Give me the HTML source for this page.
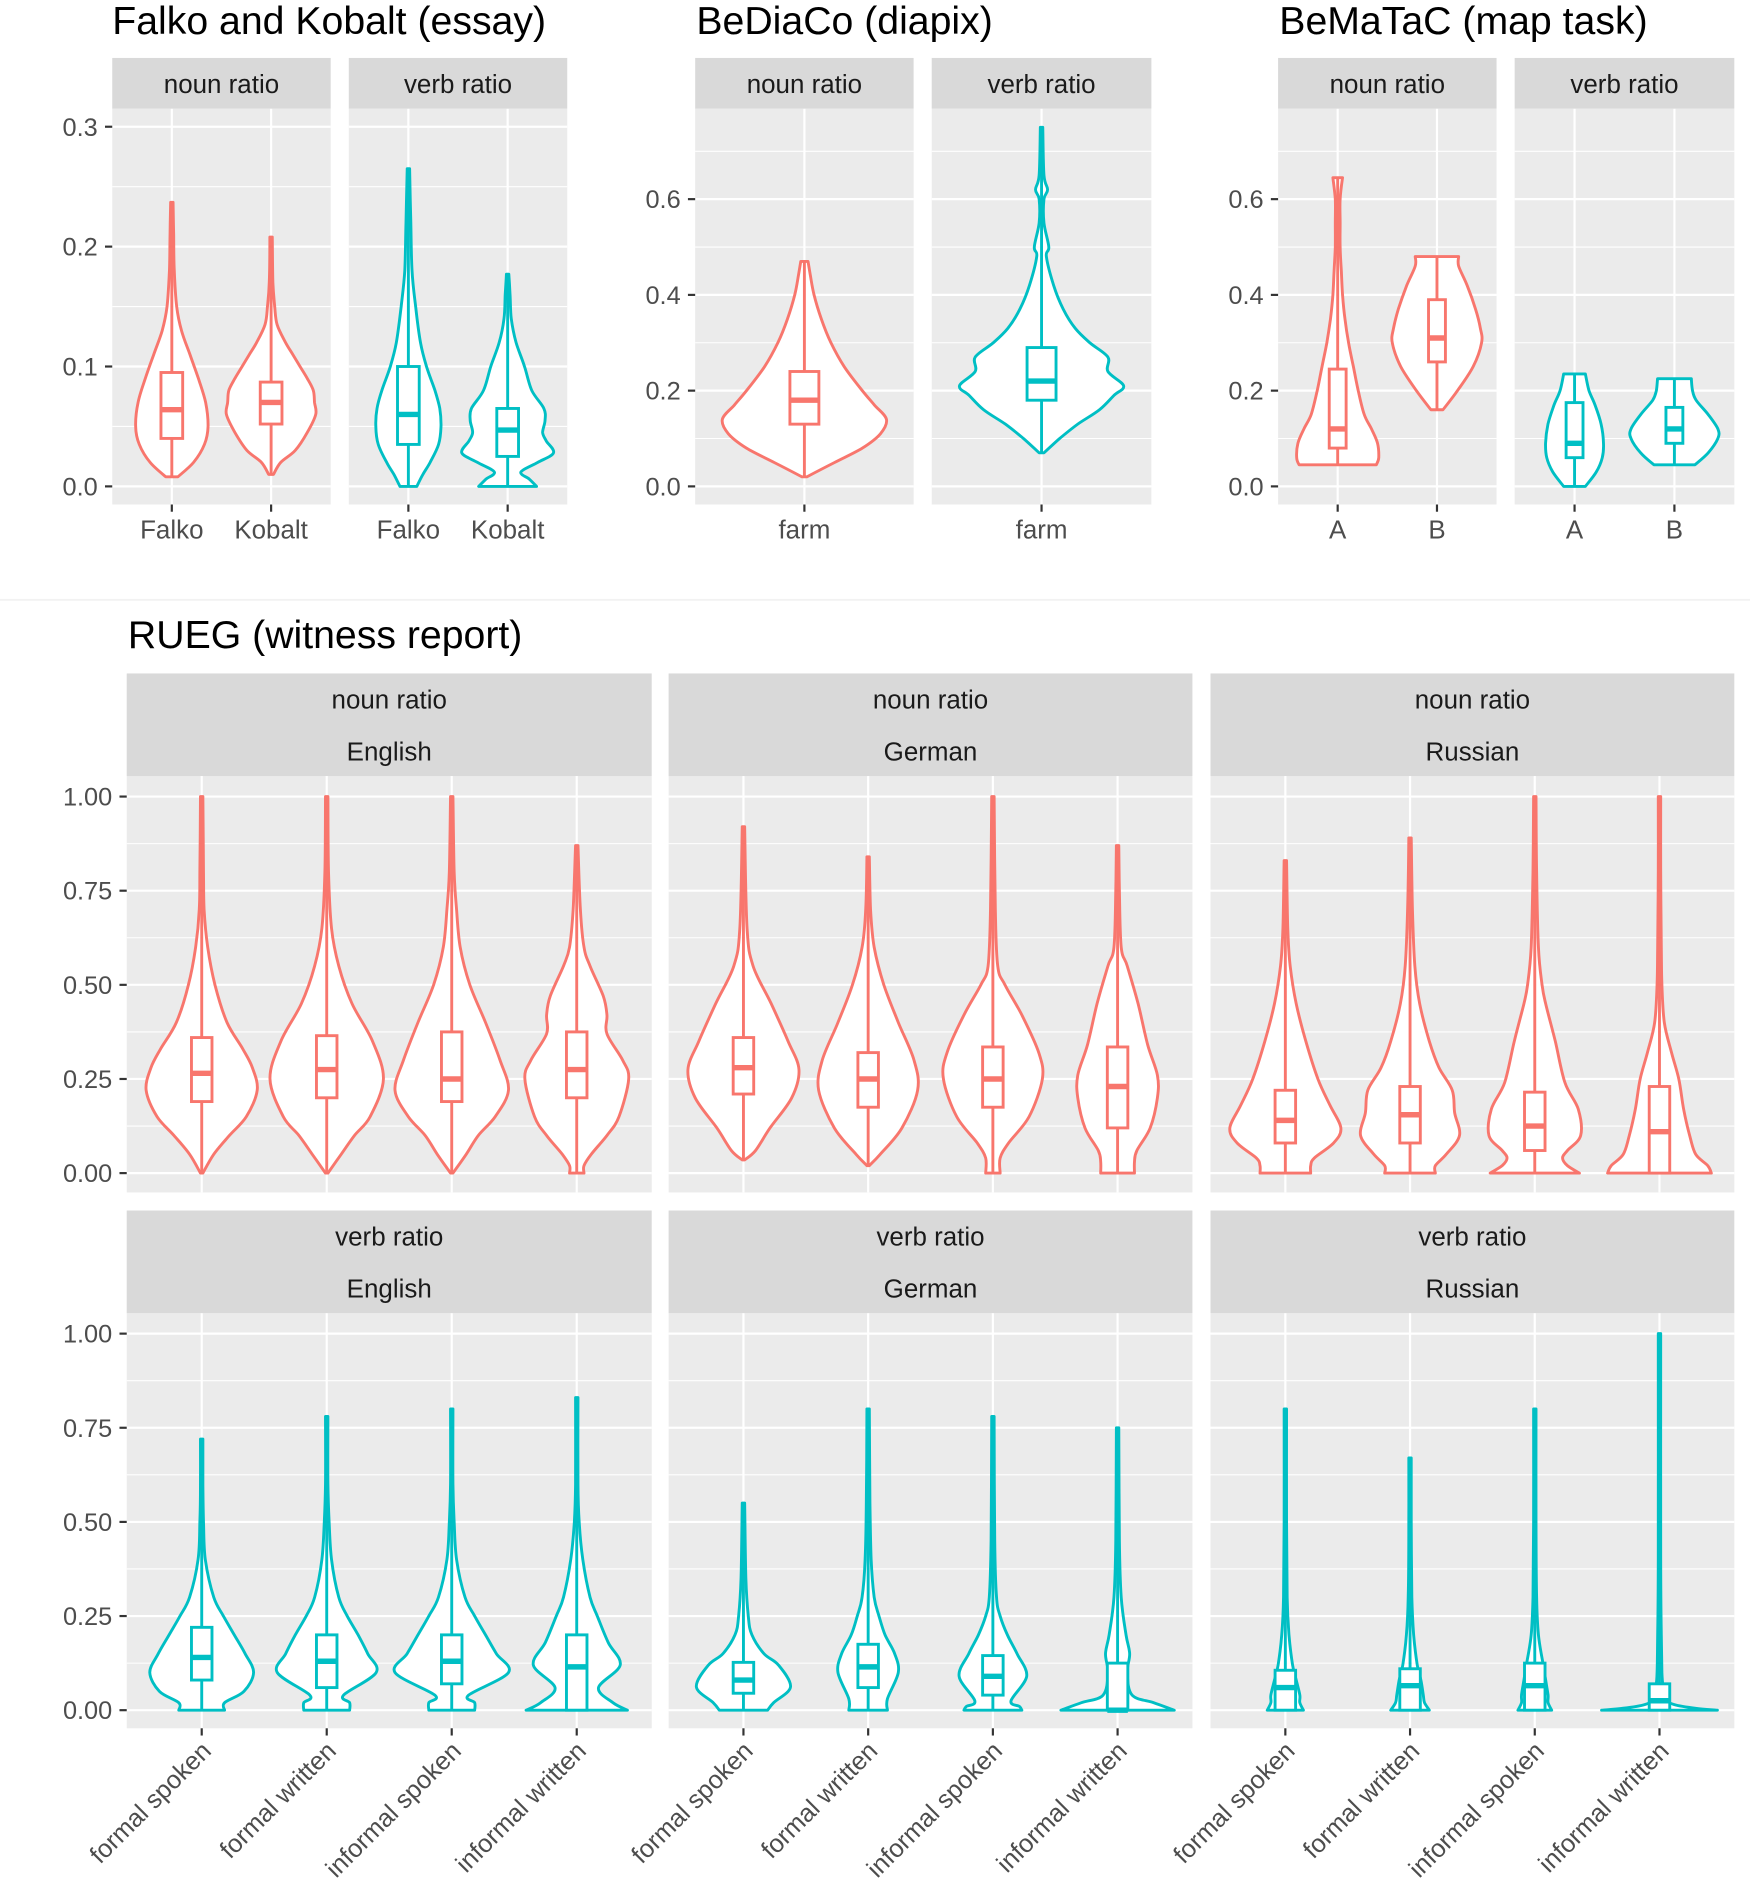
<!DOCTYPE html>
<html><head><meta charset="utf-8">
<style>
html,body{margin:0;padding:0;background:#fff;}
svg{display:block;font-family:"Liberation Sans",Arial,sans-serif;}
</style></head>
<body>
<svg id="chart" width="1750" height="1887" viewBox="0 0 1450 1563.5" xmlns="http://www.w3.org/2000/svg">
<rect x="0" y="0" width="1450" height="1563.5" fill="#fff"/>
</svg>
<script>
// ---------- data ----------
const ratioStrips = ["noun ratio","verb ratio"];
const falkoCats = ["Falko","Kobalt"];
const diapixCats = ["farm"];
const mapCats = ["A","B"];
const ruegCats = ["formal spoken","formal written","informal spoken","informal written"];
const ruegLangs = ["English","German","Russian"];
const ticksTopA = [0,0.1,0.2,0.3];
const ticksTopB = [0,0.2,0.4,0.6];
const ticksRueg = [0,0.25,0.5,0.75,1];
const tickLabelsTopA = ["0.0","0.1","0.2","0.3"];
const tickLabelsTopB = ["0.0","0.2","0.4","0.6"];
const tickLabelsRueg = ["0.00","0.25","0.50","0.75","1.00"];

// each violin: y = value grid, w = density (half-width), box = [q1, median, q3]
const falkoNoun = {y:[0.008,0.02,0.035,0.05,0.07,0.09,0.11,0.13,0.15,0.18,0.21,0.237], w:[5,18,27,30,28,22,15,8,4,2,1.5,1], box:[0.04,0.064,0.095]};
const kobaltNoun = {y:[0.01,0.02,0.03,0.045,0.06,0.07,0.08,0.09,0.1,0.11,0.12,0.135,0.15,0.17,0.208], w:[2,8,20,30,37,36,35,30,24,18,12,5,3,1.5,1], box:[0.052,0.07,0.087]};
const falkoVerb = {y:[0,0.01,0.02,0.035,0.05,0.065,0.08,0.1,0.12,0.15,0.18,0.22,0.265], w:[7,12,18,25,27,26,22,15,10,6,3,2,1], box:[0.035,0.06,0.1]};
const kobaltVerb = {y:[0,0.006,0.012,0.02,0.028,0.038,0.045,0.055,0.065,0.08,0.1,0.12,0.14,0.16,0.177], w:[24,18,11,25,38,32,29,31,30,20,14,7,3,2,1], box:[0.025,0.047,0.065]};
const diapixNoun = {y:[0.02,0.05,0.08,0.11,0.14,0.17,0.2,0.25,0.3,0.35,0.4,0.44,0.47], w:[2,25,48,63,68,58,48,33,22,14,8,5,3], box:[0.13,0.18,0.24]};
const diapixVerb = {y:[0.07,0.1,0.13,0.16,0.19,0.21,0.24,0.27,0.3,0.33,0.37,0.42,0.48,0.5,0.55,0.6,0.62,0.65,0.75], w:[2,15,30,48,60,68,55,55,40,28,18,10,4,6,2,2,5,2,1], box:[0.18,0.22,0.29]};
const mapNounA = {y:[0.045,0.06,0.09,0.12,0.15,0.2,0.25,0.3,0.35,0.4,0.45,0.5,0.55,0.6,0.645], w:[32,34,33,28,22,17,13,9,6,4,3,2,2,2,4], box:[0.08,0.12,0.245]};
const mapNounB = {y:[0.16,0.2,0.25,0.3,0.33,0.37,0.42,0.46,0.48], w:[5,17,30,37,36,32,25,18,18], box:[0.26,0.31,0.39]};
const mapVerbA = {y:[0,0.03,0.06,0.09,0.13,0.17,0.2,0.235], w:[9,18,23,24,22,17,12,9], box:[0.06,0.09,0.175]};
const mapVerbB = {y:[0.045,0.07,0.1,0.12,0.15,0.18,0.2,0.225], w:[17,28,36,36,28,18,15,14], box:[0.09,0.12,0.165]};

const enNounFS = {y:[0,0.05,0.1,0.15,0.22,0.28,0.33,0.4,0.5,0.6,0.7,0.8,1], w:[1,10,23,37,46,42,34,21,11,5,2,1.5,1], box:[0.19,0.265,0.36]};
const enNounFW = {y:[0,0.05,0.1,0.15,0.25,0.35,0.45,0.55,0.65,0.8,1], w:[1,12,23,36,47,38,21,10,4,1.5,1], box:[0.2,0.275,0.365]};
const enNounIS = {y:[0,0.05,0.1,0.15,0.22,0.3,0.4,0.5,0.6,0.7,0.8,1], w:[1,12,22,36,47,40,28,15,7,4,2,1], box:[0.19,0.25,0.375]};
const enNounIW = {y:[0,0.02,0.05,0.1,0.15,0.25,0.3,0.37,0.42,0.47,0.55,0.6,0.7,0.87], w:[6,6,12,25,35,43,38,25,25,22,11,6,3,1], box:[0.2,0.275,0.375]};
const deNounFS = {y:[0.035,0.06,0.12,0.2,0.275,0.35,0.45,0.55,0.65,0.92], w:[1,10,22,40,46,37,23,8,3,1], box:[0.21,0.28,0.36]};
const deNounFW = {y:[0.02,0.05,0.12,0.22,0.3,0.4,0.5,0.6,0.7,0.84], w:[1,10,28,41,38,25,13,5,2,1], box:[0.175,0.25,0.32]};
const deNounIS = {y:[0,0.04,0.08,0.15,0.25,0.32,0.42,0.5,0.55,0.7,1], w:[6,6,13,30,41,38,24,10,4,2,1], box:[0.175,0.25,0.335]};
const deNounIW = {y:[0,0.03,0.06,0.12,0.2,0.26,0.34,0.45,0.55,0.6,0.75,0.87], w:[14,14,16,27,33,33,25,17,8,3,1.5,1], box:[0.12,0.23,0.335]};
const ruNounFS = {y:[0,0.02,0.04,0.08,0.12,0.18,0.25,0.35,0.45,0.55,0.65,0.83], w:[21,21,24,40,46,37,27,17,9,4,2,1], box:[0.08,0.14,0.22]};
const ruNounFW = {y:[0,0.02,0.05,0.1,0.16,0.22,0.28,0.35,0.45,0.55,0.7,0.89], w:[21,21,30,41,37,35,24,16,8,4,2,1], box:[0.08,0.155,0.23]};
const ruNounIS = {y:[0,0.02,0.04,0.06,0.1,0.17,0.24,0.35,0.45,0.5,0.6,0.8,1], w:[37,27,23,27,38,36,25,17,9,6,3,1.5,1], box:[0.06,0.125,0.215]};
const ruNounIW = {y:[0,0.02,0.05,0.1,0.17,0.25,0.32,0.4,0.5,0.6,0.8,1], w:[43,40,30,25,20,16,10,4,2,1.5,1,1], box:[0,0.11,0.23]};

const enVerbFS = {y:[0,0.02,0.05,0.1,0.15,0.2,0.25,0.3,0.4,0.5,0.6,0.72], w:[19,19,35,43,36,27,18,10,3,1.5,1,1], box:[0.08,0.14,0.22]};
const enVerbFW = {y:[0,0.02,0.04,0.1,0.15,0.2,0.25,0.3,0.4,0.5,0.6,0.78], w:[19,19,14,41,34,26,17,10,4,2,1,1], box:[0.06,0.13,0.2]};
const enVerbIS = {y:[0,0.02,0.04,0.1,0.15,0.2,0.25,0.3,0.4,0.5,0.6,0.8], w:[19,19,14,47,37,28,19,11,4,2,1,1], box:[0.07,0.13,0.2]};
const enVerbIW = {y:[0,0.02,0.06,0.12,0.18,0.25,0.3,0.4,0.5,0.6,0.83], w:[42,30,18,36,26,17,11,5,2,1,1], box:[0,0.115,0.2]};
const deVerbFS = {y:[0,0.02,0.062,0.12,0.15,0.2,0.25,0.35,0.55], w:[20,25,39,29,17,7,4,2,1], box:[0.045,0.08,0.127]};
const deVerbFW = {y:[0,0.03,0.1,0.15,0.2,0.25,0.3,0.4,0.55,0.8], w:[16,16,25,22,14,9,5,2.5,1.5,1], box:[0.06,0.115,0.175]};
const deVerbIS = {y:[0,0.01,0.025,0.09,0.15,0.2,0.25,0.3,0.45,0.78], w:[24,22,15,28,20,12,6,3,1.5,1], box:[0.04,0.09,0.145]};
const deVerbIW = {y:[0,0.02,0.04,0.1,0.15,0.2,0.3,0.45,0.75], w:[47,30,12,8,10,7,3,1.5,1], box:[0,0,0.125]};
const ruVerbFS = {y:[0,0.02,0.04,0.08,0.12,0.2,0.3,0.5,0.8], w:[15,12,12,9,6,3,1.5,1,1], box:[0,0.06,0.106]};
const ruVerbFW = {y:[0,0.02,0.04,0.08,0.12,0.2,0.3,0.5,0.67], w:[16,12,11,9,6,3,1.5,1,1], box:[0,0.065,0.11]};
const ruVerbIS = {y:[0,0.02,0.04,0.08,0.12,0.2,0.3,0.5,0.8], w:[14,11,11,9,7,3,1.5,1,1], box:[0,0.065,0.125]};
const ruVerbIW = {y:[0,0.005,0.015,0.03,0.06,0.1,0.2,0.4,1], w:[48,30,12,5,3,2,1.5,1,1], box:[0,0.025,0.07]};

// ---------- drawing ----------
const NS = "http://www.w3.org/2000/svg";
const svg = document.getElementById("chart");
const RED = "#F8766D", TEAL = "#00BFC4";
function mk(tag, attrs, parent){
  const e = document.createElementNS(NS, tag);
  for (const k in attrs) e.setAttribute(k, attrs[k]);
  (parent||svg).appendChild(e);
  return e;
}
function txt(s, x, y, size, fill, anchor, parent){
  const t = mk("text", {x:x, y:y, "font-size":size, fill:fill, "text-anchor":anchor||"start"}, parent);
  t.textContent = s;
  return t;
}
function crPath(pts){
  let d = "";
  for (let i=0;i<pts.length-1;i++){
    const p0 = pts[Math.max(0,i-1)], p1 = pts[i], p2 = pts[i+1], p3 = pts[Math.min(pts.length-1,i+2)];
    const c1x = p1[0]+(p2[0]-p0[0])/6, c1y = p1[1]+(p2[1]-p0[1])/6;
    const c2x = p2[0]-(p3[0]-p1[0])/6, c2y = p2[1]-(p3[1]-p1[1])/6;
    d += ` C${c1x.toFixed(1)},${c1y.toFixed(1)} ${c2x.toFixed(1)},${c2y.toFixed(1)} ${p2[0].toFixed(1)},${p2[1].toFixed(1)}`;
  }
  return d;
}

function panel(p){
  const g = mk("g", {});
  
  
  const yS = v => p.zeroY - v*(p.zeroY-p.refY)/p.refV;
  const n = p.cats.length;
  const unit = (p.x1-p.x0)/(n-1+1.2);
  const xS = i => p.x0 + unit*(0.6+i);
  mk("rect", {x:p.x0, y:p.y0, width:p.x1-p.x0, height:p.y1-p.y0, fill:"#EBEBEB"}, g);
  for (let i=0;i<p.ticks.length;i++){
    const step = p.ticks[1]-p.ticks[0];
    for (const mv of [p.ticks[i]-step/2, p.ticks[i]+step/2]){
      const yy = yS(mv);
      if (yy>p.y0 && yy<p.y1 && (i===0 || mv>p.ticks[i])) mk("line",{x1:p.x0,x2:p.x1,y1:yy,y2:yy,stroke:"#fff","stroke-width":0.9},g);
    }
  }
  p.ticks.forEach(v=>{ const yy=yS(v); mk("line",{x1:p.x0,x2:p.x1,y1:yy,y2:yy,stroke:"#fff","stroke-width":1.8},g); });
  p.cats.forEach((c,i)=>{ mk("line",{x1:xS(i),x2:xS(i),y1:p.y0,y2:p.y1,stroke:"#fff","stroke-width":1.8},g); });
  const strip = mk("rect",{x:p.x0, y:p.sy0, width:p.x1-p.x0, height:p.y0-p.sy0, fill:"#D9D9D9"}, g);
  
  
  p.strip.forEach((s,k)=>{ txt(s,(p.x0+p.x1)/2,p.stripBase[k],21.5,"#1A1A1A","middle",g); });
  if (p.yLabels){
    p.ticks.forEach((v,i)=>{
      const yy=yS(v);
      mk("line",{x1:p.x0-6,x2:p.x0,y1:yy,y2:yy,stroke:"#333","stroke-width":1.8},g);
      const t = txt(p.yLabels[i], p.x0-12, yy+7.5, 21, "#4D4D4D", "end", g);
      
      
    });
  }
  p.cats.forEach((c,i)=>{
    const xx=xS(i);
    if (p.xLabels) mk("line",{x1:xx,x2:xx,y1:p.y1,y2:p.y1+6,stroke:"#333","stroke-width":1.8},g);
    if (p.xLabels==="flat"){
      const t = txt(c, xx, p.y1+28, 21.5, "#4D4D4D", "middle", g);
      
      
    } else if (p.xLabels==="rot"){
      const t = txt(c, xx+9, p.y1+20, 21, "#4D4D4D", "end", g);
      t.setAttribute("transform", `rotate(-45 ${xx+9} ${p.y1+20})`);
      
      
    }
  });
  p.violins.forEach((v,i)=>{
    const cx = xS(i);
    const sc = p.wScale;
    const right = v.y.map((yv,k)=>[cx+v.w[k]*sc, yS(yv)]);
    const left = v.y.map((yv,k)=>[cx-v.w[k]*sc, yS(yv)]).reverse();
    let d = `M${right[0][0].toFixed(1)},${right[0][1].toFixed(1)}` + crPath(right) +
            ` L${left[0][0].toFixed(1)},${left[0][1].toFixed(1)}` + crPath(left) + " Z";
    const vp = mk("path",{d:d, fill:"#fff", stroke:p.color, "stroke-width":2.4, "stroke-linejoin":"round"}, g);
    
    
    mk("line",{x1:cx,x2:cx,y1:yS(v.y[0]),y2:yS(v.y[v.y.length-1]),stroke:p.color,"stroke-width":2.4},g);
    const bh = p.boxHalf;
    const bx = mk("rect",{x:cx-bh, y:yS(v.box[2]), width:2*bh, height:Math.max(1,yS(v.box[0])-yS(v.box[2])), fill:"#fff", stroke:p.color, "stroke-width":2.4}, g);
    
    
    mk("line",{x1:cx-bh,x2:cx+bh,y1:yS(v.box[1]),y2:yS(v.box[1]),stroke:p.color,"stroke-width":4.5},g);
  });
}

const topCommon = {y0:90, y1:418, sy0:48, stripBase:[77], zeroY:403, xLabels:"flat", wScale:1};
const topA = Object.assign({}, topCommon, {refY:105, refV:0.3, ticks:ticksTopA});
const topB = Object.assign({}, topCommon, {refY:165, refV:0.6, ticks:ticksTopB});
panel(Object.assign({}, topA, {name:"falko-noun-panel", x0:93, x1:274, strip:[ratioStrips[0]], cats:falkoCats, violins:[falkoNoun,kobaltNoun], color:RED, yLabels:tickLabelsTopA, boxHalf:9}));
panel(Object.assign({}, topA, {name:"falko-verb-panel", x0:289, x1:470, strip:[ratioStrips[1]], cats:falkoCats, violins:[falkoVerb,kobaltVerb], color:TEAL, boxHalf:9}));
panel(Object.assign({}, topB, {name:"bediaco-noun-panel", x0:576, x1:757, strip:[ratioStrips[0]], cats:diapixCats, violins:[diapixNoun], color:RED, yLabels:tickLabelsTopB, boxHalf:12}));
panel(Object.assign({}, topB, {name:"bediaco-verb-panel", x0:772, x1:954, strip:[ratioStrips[1]], cats:diapixCats, violins:[diapixVerb], color:TEAL, boxHalf:12}));
panel(Object.assign({}, topB, {name:"bematac-noun-panel", x0:1059, x1:1240, strip:[ratioStrips[0]], cats:mapCats, violins:[mapNounA,mapNounB], color:RED, yLabels:tickLabelsTopB, boxHalf:7}));
panel(Object.assign({}, topB, {name:"bematac-verb-panel", x0:1255, x1:1437, strip:[ratioStrips[1]], cats:mapCats, violins:[mapVerbA,mapVerbB], color:TEAL, boxHalf:7}));

const cols = [[105,540],[554,988],[1003,1437]];
const nounSets = [[enNounFS,enNounFW,enNounIS,enNounIW],[deNounFS,deNounFW,deNounIS,deNounIW],[ruNounFS,ruNounFW,ruNounIS,ruNounIW]];
const verbSets = [[enVerbFS,enVerbFW,enVerbIS,enVerbIW],[deVerbFS,deVerbFW,deVerbIS,deVerbIW],[ruVerbFS,ruVerbFW,ruVerbIS,ruVerbIW]];
cols.forEach((c,j)=>{
  panel({name:"rueg-noun-"+ruegLangs[j].toLowerCase(), x0:c[0], x1:c[1], y0:643, y1:988, sy0:558, stripBase:[587,630], zeroY:972, refY:660, refV:1, ticks:ticksRueg,
    strip:[ratioStrips[0], ruegLangs[j]], cats:ruegCats, violins:nounSets[j], color:RED, yLabels:j===0?tickLabelsRueg:null, xLabels:null, wScale:1, boxHalf:8.5});
  panel({name:"rueg-verb-"+ruegLangs[j].toLowerCase(), x0:c[0], x1:c[1], y0:1088, y1:1432, sy0:1003, stripBase:[1032,1075], zeroY:1417, refY:1105, refV:1, ticks:ticksRueg,
    strip:[ratioStrips[1], ruegLangs[j]], cats:ruegCats, violins:verbSets[j], color:TEAL, yLabels:j===0?tickLabelsRueg:null, xLabels:"rot", wScale:1, boxHalf:8.5});
});

[["Falko and Kobalt (essay)",93,28],["BeDiaCo (diapix)",577,28],["BeMaTaC (map task)",1060,28],["RUEG (witness report)",106,537]].forEach(t=>{
  const e = txt(t[0], t[1], t[2], 32.5, "#000", "start");
  
  
});
mk("line",{x1:0,x2:1450,y1:497,y2:497,stroke:"#F2F2F2","stroke-width":1.5});
</script>
</body></html>
